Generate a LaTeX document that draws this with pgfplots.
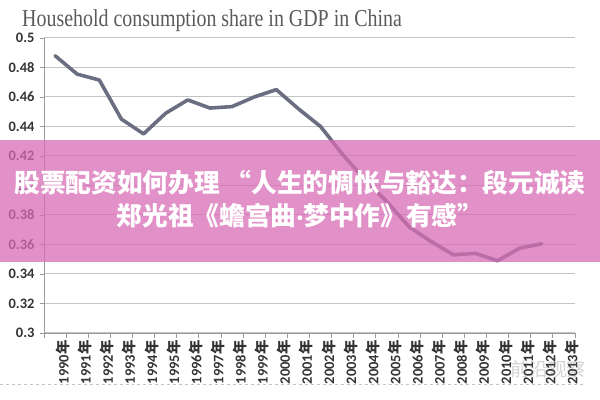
\documentclass[border=0pt]{standalone}
\usepackage{fontspec}
\setmainfont{Liberation Serif}
\newfontfamily\lab{Carlito}
\newfontfamily\cjk{Noto Sans CJK SC}
\usepackage{pgfplots}
\pgfplotsset{compat=1.18}

\definecolor{lineclr}{HTML}{6B6E80}
\definecolor{gridclr}{HTML}{C4C4C4}
\definecolor{axisclr}{HTML}{9A9A9A}
\definecolor{titleclr}{HTML}{5A5A5A}
\definecolor{band}{HTML}{D86CB5}

\newcommand{\yr}[1]{#1{\cjk 年}}

\begin{document}
\begin{tikzpicture}
\useasboundingbox (0,0) rectangle (600bp,400bp);
\begin{axis}[
  at={(44bp,67bp)}, anchor=south west,
  scale only axis, width=531bp, height=295bp,
  xmin=-0.5, xmax=23.5, ymin=0.3, ymax=0.5,
  axis x line*=bottom, axis y line*=left,
  axis line style={draw=axisclr, line width=0.8bp, -},
  ytick={0.3,0.32,0.34,0.36,0.38,0.4,0.42,0.44,0.46,0.48,0.5},
  yticklabels={0.3,0.32,0.34,0.36,0.38,0.4,0.42,0.44,0.46,0.48,0.5},
  ymajorgrids, grid style={draw=gridclr, line width=1bp},
  xtick={0,...,23},
  xticklabels={\yr{1990},\yr{1991},\yr{1992},\yr{1993},\yr{1994},\yr{1995},
    \yr{1996},\yr{1997},\yr{1998},\yr{1999},\yr{2000},\yr{2001},\yr{2002},
    \yr{2003},\yr{2004},\yr{2005},\yr{2006},\yr{2007},\yr{2008},\yr{2009},
    \yr{2010},\yr{2011},\yr{2012},\yr{2013}},
  minor xtick={-0.5,0.5,...,23.5},
  tick align=outside,
  major tick length=4bp, minor tick length=5bp,
  x tick style={draw=none},
  y tick style={draw=axisclr, line width=0.8bp},
  minor x tick style={draw=axisclr, line width=0.8bp},
  yticklabel style={font=\lab\bfseries\fontsize{14.5}{14.5}\selectfont, text=black!80, xshift=-2bp},
  xticklabel style={font=\lab\bfseries\fontsize{14.5}{14.5}\selectfont, text=black!80, rotate=90, anchor=east, yshift=-8bp},
  clip=false,
]
\addplot[lineclr, line width=3.6bp, line join=round, line cap=round] coordinates {
  (0,0.488) (1,0.4755) (2,0.4715) (3,0.445) (4,0.435) (5,0.449)
  (6,0.458) (7,0.4525) (8,0.4535) (9,0.460) (10,0.465) (11,0.452)
  (12,0.440) (13,0.421) (14,0.404) (15,0.389) (16,0.372) (17,0.362)
  (18,0.353) (19,0.354) (20,0.349) (21,0.3575) (22,0.3605)
};
\end{axis}
\node[anchor=base west, inner sep=0, text=titleclr, font=\fontsize{20}{20}\selectfont] at (22bp,373bp) {\scalebox{1}[1.22]{Household consumption share in GDP in China}};
\draw[gridclr, dashed, line width=0.8bp] (0,16bp) -- (585bp,16bp);
\node[text=gray, opacity=0.35, font=\cjk\fontsize{19}{19}\selectfont, inner sep=0] at (548bp,31bp) {前沿观察};
\fill[band, opacity=0.75] (0,138bp) rectangle (600bp,260bp);
\node[text=white, font=\cjk\bfseries\fontsize{25.8}{25.8}\selectfont, inner sep=0] at (300bp,217bp) {股票配资如何办理 “人生的惆怅与豁达：段元诚读};
\node[text=white, font=\cjk\bfseries\fontsize{25.8}{25.8}\selectfont, inner sep=0] at (300bp,184bp) {郑光祖《蟾宫曲{\lab\bfseries ·}梦中作》有感”};
\end{tikzpicture}
\end{document}
